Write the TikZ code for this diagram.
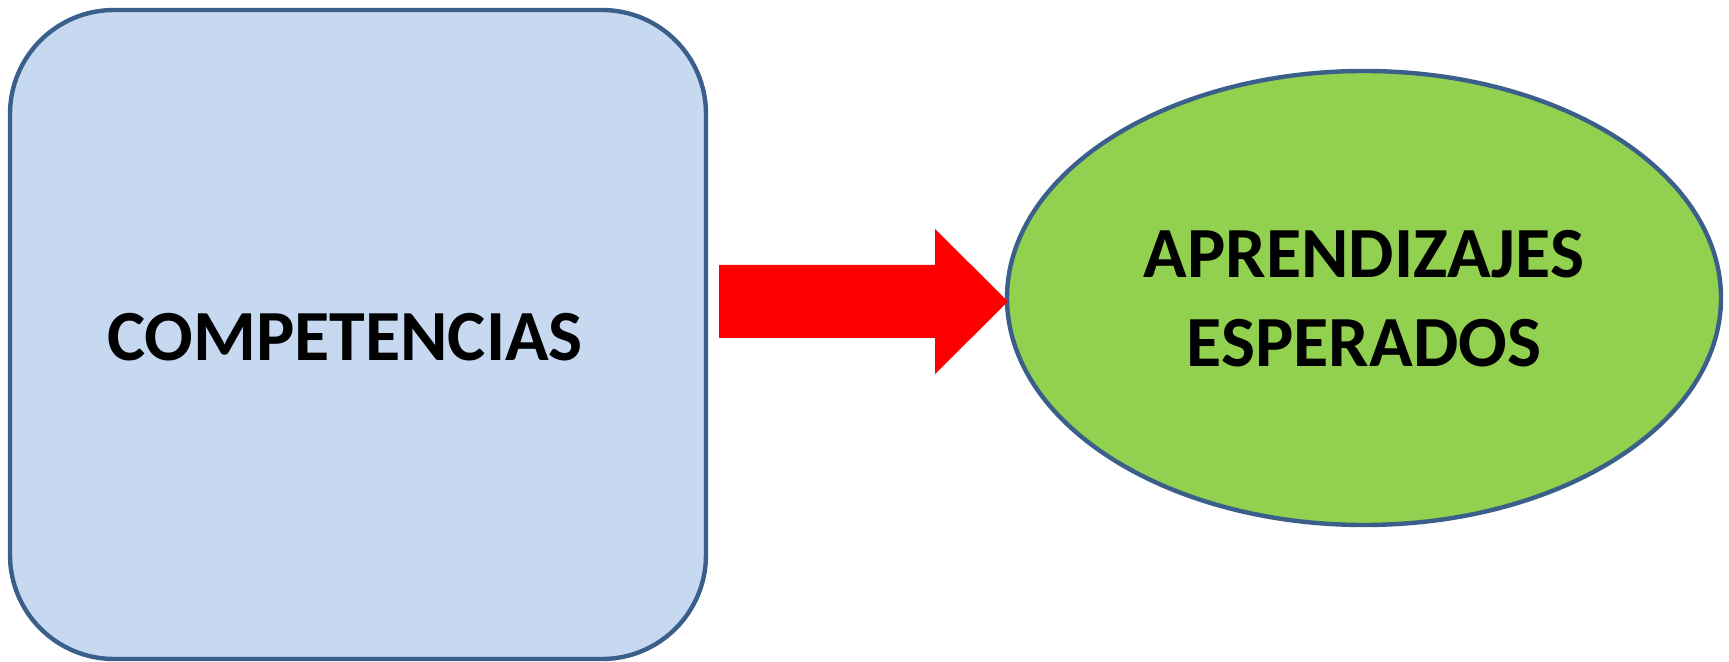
\documentclass[tikz,border=0pt]{standalone}
\usepackage{fontspec}
\setmainfont{Carlito}
\usetikzlibrary{shapes.geometric}
\definecolor{edgeblue}{HTML}{3A5F8B}
\definecolor{boxfill}{HTML}{C6D9F1}
\definecolor{ellfill}{HTML}{92D050}
\definecolor{arrred}{HTML}{FF0000}
\tikzset{
  shapeborder/.style={draw=edgeblue, line width=2.2pt},
  bigtext/.style={font=\fontsize{36}{44.5}\selectfont\bfseries, text=black, inner sep=0pt, align=center},
}
\begin{document}
\begin{tikzpicture}[x=0.5pt, y=-0.5pt]
\useasboundingbox (0,0) rectangle (1729,662);
\node[shapeborder, fill=boxfill, rounded corners=52pt, minimum width=348pt, minimum height=324.5pt, inner sep=0pt] (comp) at (358,334.5) {};
\node[bigtext, anchor=base] (comptext) at (345,361) {COMPETENCIAS};
\node[shapeborder, fill=ellfill, ellipse, minimum width=357pt, minimum height=227pt, inner sep=0pt] (ell) at (1364,298) {};
\node[bigtext, anchor=base] (elltext1) at (1364,278) {APRENDIZAJES};
\node[bigtext, anchor=base] (elltext2) at (1364,367) {ESPERADOS};
\coordinate (tip) at (1008,301.5);
\fill[arrred] (tip) -- (935,229) -- (935,265) -- (719,265) -- (719,338) -- (935,338) -- (935,374) -- cycle;
\end{tikzpicture}
\end{document}
